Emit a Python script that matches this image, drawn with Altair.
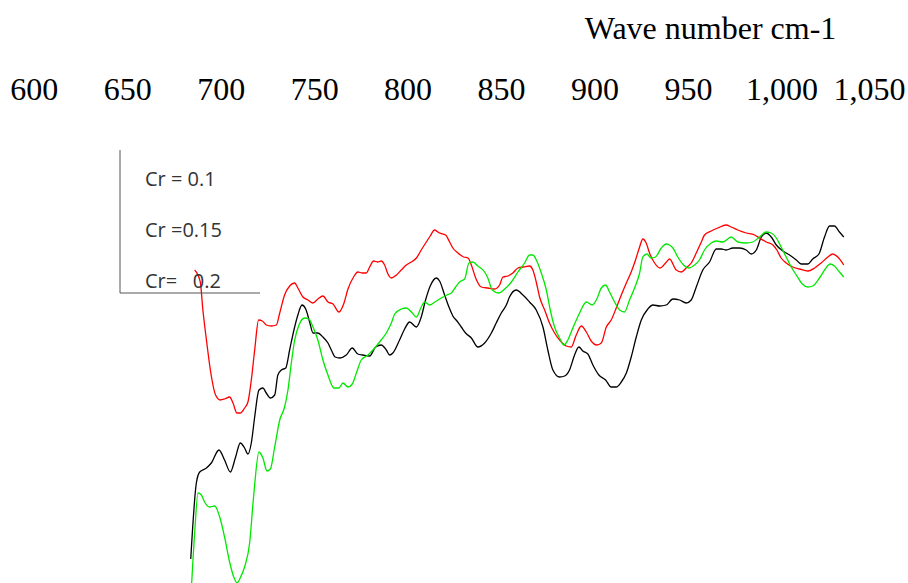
import altair as alt
import pandas as pd

# Tick labels of the wavenumber axis (cm-1)
x_ticks = [600, 650, 700, 750, 800, 850, 900, 950, 1000, 1050]

# Series labels (legend) and colours
series_names = ["Cr = 0.1", "Cr =0.15", "Cr=\u00a0\u00a0\u00a00.2"]
series_colors = ["#000000", "#ff0000", "#00e800"]

# Cr = 0.1 (black)
black_wn = [684.0, 687.0, 688.8, 692.4, 695.0, 699.1, 702.1, 705.2, 708.0, 710.5, 712.8, 714.6, 716.4,
            718.2, 720.5, 722.6, 724.4, 726.6, 728.9, 730.6, 732.5, 734.8, 736.9, 739.2, 741.3, 743.5,
            745.5, 747.6, 749.4, 752.0, 754.7, 757.4, 759.2, 761.3, 763.6, 767.2, 770.4, 773.4, 776.1,
            779.7, 782.9, 785.9, 788.6, 790.4, 792.1, 795.7, 798.4, 801.1, 804.7, 807.3, 809.6, 812.1,
            815.4, 817.1, 819.8, 822.1, 824.2, 826.4, 828.7, 831.0, 834.1, 837.6, 841.2, 844.8, 847.4,
            850.1, 852.8, 854.5, 858.1, 861.7, 865.2, 868.8, 872.4, 875.0, 877.7, 881.3, 884.0, 886.6,
            889.3, 891.6, 893.7, 896.4, 899.1, 902.3, 905.9, 908.9, 911.6, 914.3, 917.0, 919.6, 922.3,
            925.0, 928.5, 931.2, 934.8, 938.3, 941.9, 945.5, 949.0, 951.7, 954.4, 957.9, 961.5, 965.1,
            967.8, 970.4, 974.0, 977.5, 981.1, 983.8, 986.5, 989.2, 991.8, 994.5, 997.2, 1000.7, 1004.3,
            1007.9, 1010.5, 1014.1, 1016.7, 1020.0, 1023.0, 1025.7, 1028.3, 1031.0, 1033.3]
black_val = [24, 100, 111, 115, 120, 133, 123, 111, 126, 140, 135, 129, 140,
             166, 193, 195, 190, 185, 188, 208, 213, 215, 233, 253, 268, 278,
             274, 261, 250, 250, 246, 240, 233, 226, 225, 228, 235, 229, 228,
             227, 236, 238, 233, 228, 230, 243, 254, 261, 256, 266, 283, 297,
             305, 302, 288, 276, 267, 262, 256, 250, 245, 236, 240, 250, 260,
             270, 278, 286, 293, 288, 281, 273, 256, 233, 213, 206, 207, 213,
             228, 236, 232, 229, 218, 208, 203, 196, 196, 201, 210, 226, 246,
             263, 274, 278, 277, 278, 284, 283, 280, 283, 296, 313, 321, 334,
             334, 333, 335, 335, 333, 329, 333, 346, 350, 346, 338, 332, 328,
             323, 319, 319, 324, 329, 346, 357, 357, 351, 346]

# Cr = 0.15 (red)
red_wn = [686.1, 689.1, 690.5, 692.4, 694.5, 697.3, 699.8, 702.1, 704.8, 706.6, 708.7, 710.5, 712.8,
          714.6, 716.4, 718.2, 720.3, 722.3, 724.4, 727.1, 729.8, 731.6, 734.2, 736.9, 739.6, 741.3,
          744.0, 746.7, 749.4, 752.0, 754.7, 757.4, 760.1, 763.3, 765.8, 768.1, 771.1, 773.4, 775.8,
          777.9, 779.7, 781.8, 784.1, 785.9, 787.7, 789.5, 791.3, 794.0, 796.6, 799.3, 802.0, 804.7,
          807.3, 810.0, 812.1, 814.4, 817.1, 820.3, 822.5, 824.2, 826.9, 830.0, 832.3, 834.1, 836.4,
          839.4, 842.9, 846.5, 849.2, 851.0, 853.6, 856.3, 859.0, 862.0, 865.2, 867.0, 868.8, 870.6,
          873.3, 875.9, 878.6, 881.3, 884.9, 887.5, 890.2, 892.9, 895.6, 898.2, 901.2, 903.6, 906.3,
          908.9, 911.6, 914.3, 917.0, 919.6, 921.9, 924.1, 925.8, 927.6, 929.4, 932.1, 935.1, 938.0,
          940.1, 943.7, 946.4, 949.0, 951.7, 954.4, 957.1, 958.8, 962.4, 965.9, 970.4, 973.1, 976.6,
          981.1, 985.6, 988.2, 991.8, 995.4, 997.5, 999.8, 1002.5, 1006.0, 1009.6, 1014.1, 1017.7,
          1021.2, 1024.8, 1027.4, 1030.1, 1033.3]
red_val = [313, 301, 273, 243, 213, 188, 183, 184, 186, 180, 170, 170, 175,
           181, 203, 233, 263, 262, 258, 257, 258, 270, 288, 297, 300, 295,
           286, 283, 280, 284, 287, 281, 279, 271, 279, 294, 306, 311, 310,
           310, 316, 322, 321, 322, 318, 309, 305, 308, 313, 318, 321, 325,
           333, 341, 347, 353, 350, 348, 341, 335, 330, 326, 325, 318, 305,
           296, 295, 294, 298, 306, 307, 310, 315, 316, 317, 313, 301, 286,
           273, 260, 250, 243, 237, 236, 248, 257, 251, 242, 238, 240, 256,
           263, 275, 288, 300, 311, 323, 336, 344, 340, 330, 320, 315, 320,
           324, 313, 311, 315, 320, 330, 341, 348, 352, 355, 358, 356, 353,
           350, 348, 345, 341, 338, 333, 325, 320, 316, 314, 312, 315,
           320, 326, 329, 326, 318]

# Cr = 0.2 (green)
green_wn = [684.0, 686.1, 687.9, 689.7, 691.4, 694.1, 696.8, 699.5, 702.1, 704.8, 707.0, 708.8, 710.7,
            712.8, 715.5, 717.6, 720.5, 722.6, 724.8, 726.6, 728.9, 731.6, 734.2, 736.0, 737.8, 739.6,
            741.9, 744.9, 747.2, 749.4, 752.0, 754.7, 757.4, 760.6, 763.3, 765.4, 768.1, 770.4, 772.6,
            775.2, 778.8, 782.4, 785.0, 788.6, 791.3, 793.1, 796.6, 799.3, 802.0, 804.7, 807.3, 809.1,
            811.8, 815.4, 818.0, 821.0, 823.4, 825.7, 827.8, 830.5, 832.8, 834.9, 837.6, 841.2, 842.9,
            845.3, 848.8, 851.9, 855.5, 859.0, 862.6, 865.2, 867.0, 869.1, 871.5, 874.2, 876.3, 878.6,
            881.3, 883.6, 885.7, 888.4, 892.0, 895.6, 898.8, 901.2, 903.6, 905.9, 908.0, 910.7, 913.4,
            916.0, 918.7, 921.4, 924.1, 925.8, 928.0, 930.3, 932.6, 935.7, 938.3, 940.1, 941.9, 944.5,
            947.6, 950.4, 953.5, 956.1, 958.8, 962.4, 965.1, 968.6, 973.1, 976.6, 981.1, 984.6, 988.2,
            991.8, 994.5, 997.2, 999.8, 1002.5, 1005.2, 1007.9, 1011.1, 1014.1, 1016.7, 1020.3, 1023.4,
            1026.0, 1028.3, 1031.0, 1033.3]
green_val = [-17, 50, 90, 88, 81, 76, 77, 66, 46, 21, 6, 0, 6,
             16, 40, 86, 131, 125, 112, 114, 136, 163, 176, 193, 220, 243,
             258, 265, 264, 256, 243, 223, 208, 195, 195, 200, 196, 199, 210,
             223, 228, 235, 241, 250, 260, 269, 274, 275, 271, 266, 276, 281,
             278, 282, 285, 288, 290, 296, 301, 304, 320, 321, 317, 311, 305,
             293, 290, 294, 301, 311, 320, 328, 328, 322, 310, 293, 273, 256,
             245, 238, 243, 255, 270, 281, 278, 284, 295, 298, 291, 281, 273,
             271, 283, 295, 310, 326, 329, 325, 326, 335, 339, 338, 335, 326,
             318, 315, 318, 323, 333, 340, 342, 341, 346, 341, 340, 341, 346,
             351, 350, 345, 336, 326, 316, 308, 299, 296, 297, 305, 314,
             319, 317, 311, 306]

frames = []
for name, wn, val in [(series_names[0], black_wn, black_val),
                      (series_names[1], red_wn, red_val),
                      (series_names[2], green_wn, green_val)]:
    frames.append(pd.DataFrame({"wavenumber": wn, "intensity": val, "series": name}))
df = pd.concat(frames, ignore_index=True)

lines = alt.Chart(df).mark_line(strokeWidth=1.3, clip=True, interpolate="monotone").encode(
    x=alt.X(
        "wavenumber:Q",
        scale=alt.Scale(domain=[590, 1050], nice=False, zero=False),
        axis=alt.Axis(
            orient="top",
            values=x_ticks,
            format=",.0f",
            title="Wave number cm-1",
            titleFont="Liberation Serif",
            titleFontSize=32,
            titleFontWeight="normal",
            titleColor="#000000",
            titleX=695,
            titleY=-82,
            titleAlign="center",
            titleBaseline="alphabetic",
            labelFont="Liberation Serif",
            labelFontSize=32,
            labelColor="#000000",
            labelPadding=14,
            labelFlush=True,
            labelFlushOffset=30,
            labelOverlap=False,
            domain=False,
            ticks=False,
            tickSize=0,
            grid=False,
        ),
    ),
    y=alt.Y(
        "intensity:Q",
        scale=alt.Scale(domain=[0, 463], nice=False, zero=False),
        axis=None,
    ),
    color=alt.Color(
        "series:N",
        scale=alt.Scale(domain=series_names, range=series_colors),
        sort=series_names,
        legend=alt.Legend(
            orient="none",
            legendX=110,
            legendY=50,
            title=None,
            symbolSize=0,
            symbolOpacity=0,
            symbolStrokeWidth=0,
            labelOffset=0,
            labelFont="Open Sans",
            labelFontSize=20,
            labelColor="#333333",
            rowPadding=31,
            padding=0,
        ),
    ),
    detail="series:N",
)

legend_left = alt.Chart(pd.DataFrame({"k": [0]})).mark_rule(color="#555555", strokeWidth=1).encode(
    x=alt.value(105), y=alt.value(30), y2=alt.value(173)
)
legend_bottom = alt.Chart(pd.DataFrame({"k": [0]})).mark_rule(color="#555555", strokeWidth=1).encode(
    x=alt.value(105), x2=alt.value(245), y=alt.value(173)
)

chart = alt.layer(lines, legend_left, legend_bottom).properties(
    width=860,
    height=463,
    padding={"left": 15, "top": 120, "right": 33, "bottom": 0},
    autosize=alt.AutoSizeParams(type="none"),
).configure_view(stroke=None)

chart.save("out.html", embed_options={"renderer": "svg", "actions": False})
